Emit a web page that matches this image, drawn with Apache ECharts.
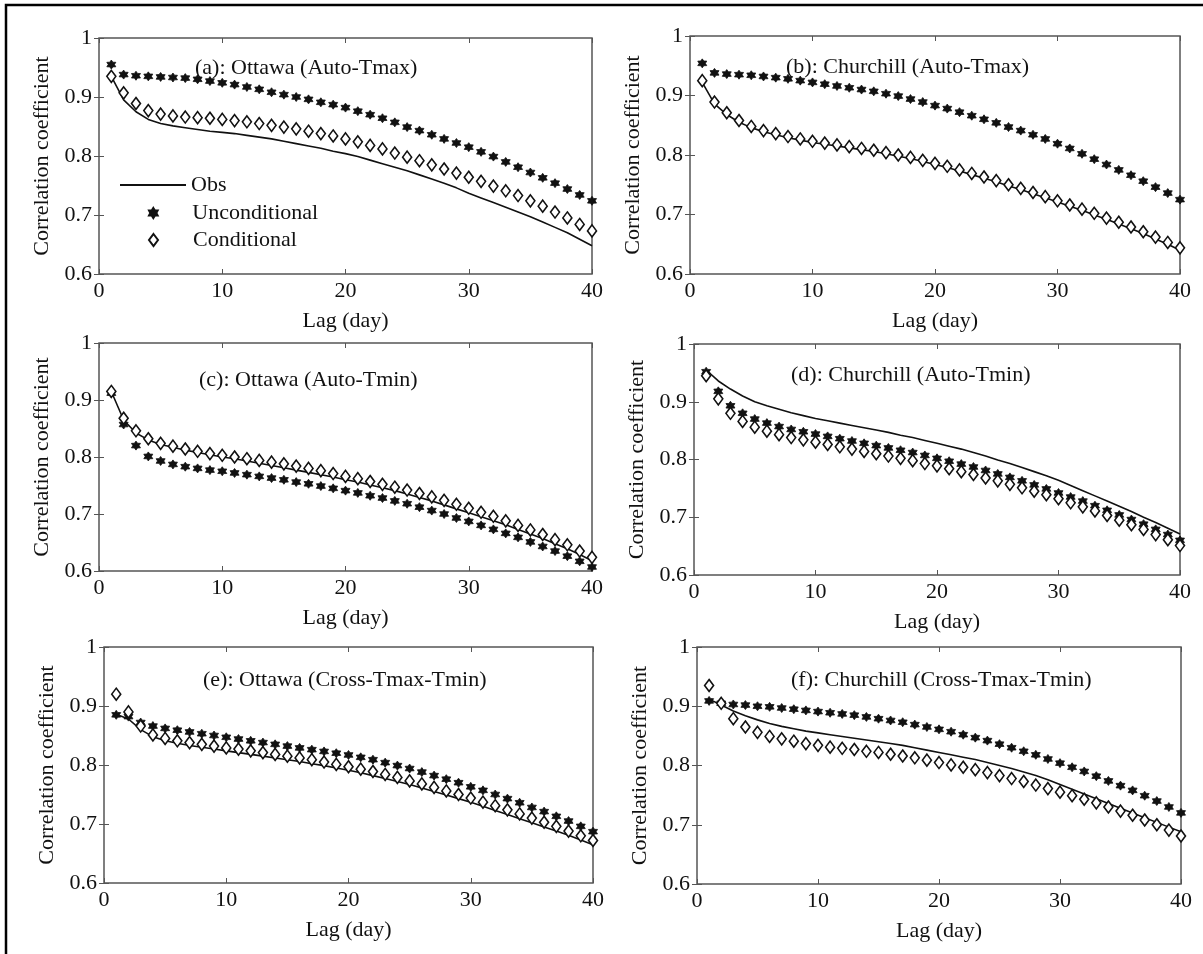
<!DOCTYPE html>
<html>
<head>
<meta charset="utf-8">
<script src="https://cdn.jsdelivr.net/npm/echarts@6/dist/echarts.min.js"></script>
<style>
html,body{margin:0;padding:0;background:#fff;}
#chart{width:1203px;height:954px;}
</style>
</head>
<body>
<div id="chart"></div>
<script>
// ---- Data ----
var lags = [1,2,3,4,5,6,7,8,9,10,11,12,13,14,15,16,17,18,19,20,21,22,23,24,25,26,27,28,29,30,31,32,33,34,35,36,37,38,39,40];
var xTicks = [0,10,20,30,40];
var yTicks = [0.6,0.7,0.8,0.9,1];
var panelTitles = ['(a): Ottawa (Auto-Tmax)','(b): Churchill (Auto-Tmax)','(c): Ottawa (Auto-Tmin)','(d): Churchill (Auto-Tmin)','(e): Ottawa (Cross-Tmax-Tmin)','(f): Churchill (Cross-Tmax-Tmin)'];
var seriesNames = ['Obs','Unconditional','Conditional'];

// (a) Ottawa Auto-Tmax
var obsA = [0.935,0.895,0.875,0.862,0.855,0.851,0.848,0.845,0.842,0.840,0.838,0.835,0.832,0.829,0.825,0.821,0.817,0.813,0.808,0.804,0.799,0.793,0.787,0.781,0.775,0.768,0.761,0.754,0.746,0.737,0.729,0.721,0.713,0.705,0.697,0.688,0.679,0.670,0.659,0.648];
var uncA = [0.955,0.938,0.936,0.935,0.934,0.933,0.932,0.930,0.927,0.924,0.921,0.917,0.913,0.908,0.904,0.900,0.896,0.891,0.887,0.882,0.876,0.870,0.864,0.857,0.849,0.843,0.836,0.829,0.822,0.815,0.807,0.799,0.790,0.781,0.772,0.763,0.754,0.744,0.734,0.724];
var conA = [0.935,0.907,0.889,0.877,0.871,0.868,0.866,0.865,0.864,0.862,0.860,0.858,0.855,0.852,0.849,0.846,0.842,0.838,0.834,0.829,0.824,0.818,0.812,0.805,0.798,0.792,0.785,0.778,0.771,0.764,0.757,0.749,0.741,0.733,0.724,0.715,0.705,0.695,0.684,0.673];
// (b) Churchill Auto-Tmax
var obsB = [0.922,0.886,0.868,0.855,0.846,0.839,0.834,0.829,0.825,0.821,0.818,0.815,0.812,0.809,0.806,0.802,0.798,0.794,0.789,0.784,0.779,0.773,0.767,0.761,0.755,0.748,0.742,0.735,0.728,0.721,0.714,0.707,0.699,0.692,0.684,0.676,0.668,0.659,0.650,0.640];
var uncB = [0.954,0.938,0.936,0.935,0.934,0.932,0.930,0.928,0.925,0.922,0.919,0.916,0.913,0.910,0.907,0.903,0.899,0.894,0.889,0.883,0.878,0.872,0.866,0.860,0.854,0.847,0.841,0.834,0.827,0.819,0.811,0.802,0.793,0.784,0.775,0.766,0.756,0.746,0.736,0.725];
var conB = [0.925,0.889,0.871,0.858,0.848,0.841,0.836,0.831,0.827,0.823,0.820,0.817,0.814,0.811,0.808,0.804,0.800,0.796,0.791,0.786,0.781,0.775,0.769,0.763,0.757,0.750,0.744,0.737,0.730,0.723,0.716,0.709,0.702,0.694,0.687,0.679,0.671,0.662,0.653,0.644];
// (c) Ottawa Auto-Tmin
var obsC = [0.915,0.865,0.842,0.830,0.822,0.817,0.812,0.808,0.804,0.800,0.797,0.793,0.789,0.785,0.781,0.777,0.773,0.769,0.765,0.760,0.756,0.751,0.746,0.741,0.735,0.729,0.723,0.716,0.709,0.702,0.695,0.688,0.681,0.673,0.665,0.657,0.648,0.639,0.629,0.618];
var uncC = [0.912,0.857,0.820,0.801,0.793,0.787,0.783,0.780,0.777,0.775,0.772,0.769,0.766,0.763,0.760,0.756,0.753,0.749,0.745,0.741,0.737,0.732,0.728,0.723,0.718,0.712,0.706,0.700,0.693,0.687,0.680,0.673,0.666,0.659,0.651,0.643,0.635,0.626,0.617,0.607];
var conC = [0.915,0.868,0.846,0.832,0.824,0.819,0.814,0.810,0.806,0.803,0.800,0.797,0.794,0.791,0.788,0.784,0.780,0.776,0.771,0.766,0.762,0.757,0.752,0.747,0.742,0.736,0.730,0.724,0.717,0.710,0.703,0.696,0.688,0.680,0.672,0.664,0.655,0.646,0.635,0.624];
// (d) Churchill Auto-Tmin
var obsD = [0.955,0.936,0.922,0.910,0.900,0.893,0.887,0.881,0.876,0.871,0.867,0.863,0.859,0.855,0.851,0.847,0.842,0.838,0.833,0.828,0.823,0.818,0.812,0.806,0.799,0.793,0.786,0.779,0.772,0.764,0.755,0.746,0.737,0.728,0.719,0.710,0.700,0.691,0.681,0.671];
var uncD = [0.952,0.918,0.893,0.880,0.870,0.863,0.857,0.852,0.848,0.844,0.840,0.836,0.832,0.828,0.824,0.820,0.816,0.812,0.807,0.802,0.797,0.792,0.787,0.781,0.775,0.769,0.763,0.756,0.749,0.742,0.735,0.728,0.720,0.712,0.704,0.696,0.688,0.679,0.670,0.660];
var conD = [0.945,0.905,0.880,0.866,0.856,0.849,0.843,0.838,0.834,0.830,0.826,0.822,0.818,0.814,0.810,0.806,0.802,0.798,0.793,0.789,0.784,0.779,0.774,0.768,0.763,0.757,0.751,0.745,0.739,0.732,0.725,0.718,0.711,0.703,0.695,0.687,0.679,0.670,0.661,0.651];
// (e) Ottawa Cross-Tmax-Tmin
var obsE = [0.886,0.878,0.860,0.848,0.841,0.837,0.833,0.830,0.827,0.824,0.821,0.818,0.815,0.812,0.809,0.806,0.802,0.799,0.795,0.791,0.787,0.782,0.777,0.772,0.767,0.761,0.755,0.749,0.743,0.737,0.730,0.723,0.716,0.709,0.702,0.695,0.688,0.681,0.673,0.665];
var uncE = [0.885,0.882,0.872,0.866,0.862,0.859,0.856,0.853,0.850,0.847,0.844,0.841,0.838,0.835,0.832,0.829,0.826,0.823,0.820,0.817,0.813,0.809,0.804,0.799,0.794,0.788,0.782,0.776,0.770,0.763,0.757,0.750,0.743,0.736,0.728,0.721,0.713,0.705,0.696,0.687];
var conE = [0.920,0.890,0.866,0.851,0.845,0.841,0.838,0.835,0.832,0.829,0.827,0.824,0.821,0.818,0.815,0.812,0.809,0.805,0.801,0.797,0.793,0.789,0.784,0.779,0.773,0.768,0.762,0.756,0.750,0.744,0.737,0.731,0.724,0.717,0.710,0.703,0.696,0.688,0.680,0.672];
// (f) Churchill Cross-Tmax-Tmin
var obsF = [0.912,0.902,0.892,0.884,0.877,0.871,0.866,0.862,0.858,0.855,0.852,0.849,0.846,0.843,0.840,0.837,0.834,0.830,0.826,0.822,0.818,0.814,0.810,0.805,0.800,0.795,0.789,0.783,0.776,0.768,0.760,0.752,0.744,0.736,0.728,0.720,0.712,0.704,0.696,0.688];
var uncF = [0.909,0.905,0.903,0.902,0.900,0.899,0.897,0.895,0.893,0.891,0.889,0.887,0.885,0.882,0.879,0.876,0.873,0.869,0.865,0.861,0.857,0.852,0.847,0.842,0.836,0.830,0.824,0.818,0.811,0.804,0.797,0.790,0.782,0.774,0.766,0.758,0.749,0.740,0.730,0.720];
var conF = [0.935,0.905,0.879,0.865,0.856,0.849,0.845,0.841,0.837,0.834,0.831,0.829,0.827,0.824,0.822,0.819,0.816,0.813,0.809,0.805,0.801,0.797,0.793,0.788,0.783,0.778,0.773,0.767,0.761,0.755,0.749,0.743,0.737,0.730,0.723,0.716,0.708,0.700,0.691,0.681];

var panelData = [[obsA,uncA,conA],[obsB,uncB,conB],[obsC,uncC,conC],[obsD,uncD,conD],[obsE,uncE,conE],[obsF,uncF,conF]];

// ---- Layout (pixels) ----
var grids = [
  {left:99,  top:38,  width:493, height:236},
  {left:690, top:36,  width:490, height:238},
  {left:99,  top:343, width:493, height:228},
  {left:694, top:344, width:486, height:231},
  {left:104, top:647, width:489, height:236},
  {left:697, top:647, width:484, height:237}
];
var titlePos = [[190,52],[781,51],[194,364],[786,359],[198,664],[786,664]];

var FONT = "'Liberation Serif','Times New Roman',serif";
var TXT = '#111';
var FRAME = '#555';
var starPath = 'path://M10 0 L13 4.8 L18.66 5 L16 10 L18.66 15 L13 15.2 L10 20 L7 15.2 L1.34 15 L4 10 L1.34 5 L7 4.8 Z';

function toPairs(arr){ return lags.map(function(l,i){ return [l, arr[i]]; }); }

var option = {
  backgroundColor:'#fff',
  animation:false,
  textStyle:{fontFamily:FONT},
  grid:[], xAxis:[], yAxis:[], series:[], title:[], legend:[],
  graphic:[{
    type:'polyline', silent:true,
    shape:{points:[[6,954],[6,5],[1203,5]]},
    style:{stroke:'#000', lineWidth:2.5, fill:null}
  }]
};

grids.forEach(function(g, p){
  option.grid.push({left:g.left, top:g.top, width:g.width, height:g.height, show:true, borderColor:FRAME, borderWidth:1.5, backgroundColor:'transparent'});
  var xb = {
    type:'value', gridIndex:p, min:xTicks[0], max:xTicks[xTicks.length-1], interval:10,
    name:'Lag (day)', nameLocation:'middle', nameGap:36,
    nameTextStyle:{fontSize:22, color:TXT, fontFamily:FONT},
    axisLine:{show:false},
    axisTick:{show:true, inside:true, length:5, lineStyle:{color:FRAME, width:1}},
    axisLabel:{fontSize:22, color:TXT, margin:6, fontFamily:FONT},
    splitLine:{show:false}
  };
  var xt = {
    type:'value', gridIndex:p, position:'top', min:xTicks[0], max:xTicks[xTicks.length-1], interval:10,
    axisLine:{show:false}, axisLabel:{show:false},
    axisTick:{show:true, inside:true, length:5, lineStyle:{color:FRAME, width:1}},
    splitLine:{show:false}
  };
  var yl = {
    type:'value', gridIndex:p, min:yTicks[0], max:yTicks[yTicks.length-1], interval:0.1,
    name:'Correlation coefficient', nameLocation:'middle', nameGap:46,
    nameTextStyle:{fontSize:22, color:TXT, fontFamily:FONT},
    axisLine:{show:false},
    axisTick:{show:true, inside:true, length:5, lineStyle:{color:FRAME, width:1}},
    axisLabel:{fontSize:22, color:TXT, margin:7, fontFamily:FONT},
    splitLine:{show:false}
  };
  var yr = {
    type:'value', gridIndex:p, position:'right', min:yTicks[0], max:yTicks[yTicks.length-1], interval:0.1,
    axisLine:{show:false}, axisLabel:{show:false},
    axisTick:{show:true, inside:true, length:5, lineStyle:{color:FRAME, width:1}},
    splitLine:{show:false}
  };
  var xi = option.xAxis.length; option.xAxis.push(xb); option.xAxis.push(xt);
  var yi = option.yAxis.length; option.yAxis.push(yl); option.yAxis.push(yr);

  var d = panelData[p];
  option.series.push({
    name:seriesNames[0], type:'line', xAxisIndex:xi, yAxisIndex:yi,
    data:toPairs(d[0]), symbol:'none', showSymbol:false, smooth:false,
    lineStyle:{color:'#111', width:1.6}, itemStyle:{color:'#111'}, z:2
  });
  option.series.push({
    name:seriesNames[1], type:'scatter', xAxisIndex:xi, yAxisIndex:yi,
    data:toPairs(d[1]), symbol:starPath, symbolSize:9,
    itemStyle:{color:'#111', borderColor:'#111', borderWidth:0.8, opacity:1}, z:3
  });
  option.series.push({
    name:seriesNames[2], type:'scatter', xAxisIndex:xi, yAxisIndex:yi,
    data:toPairs(d[2]), symbol:'diamond', symbolSize:[9,12],
    itemStyle:{color:'#fff', borderColor:'#111', borderWidth:1.6, opacity:1}, z:4
  });

  option.title.push({
    text:panelTitles[p], left:titlePos[p][0], top:titlePos[p][1],
    textStyle:{fontSize:22, fontWeight:'normal', color:TXT, fontFamily:FONT}
  });
});

// legend inside panel (a)
var legendText = {fontSize:22, color:TXT, fontFamily:FONT};
option.legend.push({
  data:[{name:seriesNames[0], icon:'path://M0 0 L66 0 L66 2 L0 2 Z', itemStyle:{color:'#111'}}],
  left:120, top:174, orient:'vertical', padding:0,
  itemWidth:66, itemHeight:2, selectedMode:false, textStyle:legendText
});
option.legend.push({
  data:[seriesNames[1]], left:148, top:202, orient:'vertical', padding:0,
  itemWidth:10, itemHeight:10, selectedMode:false,
  textStyle:Object.assign({padding:[0,0,0,29]}, legendText)
});
option.legend.push({
  data:[seriesNames[2]], left:148, top:229, orient:'vertical', padding:0,
  itemWidth:9, itemHeight:12, selectedMode:false,
  textStyle:Object.assign({padding:[0,0,0,30]}, legendText)
});

var chart = echarts.init(document.getElementById('chart'), null, {renderer:'canvas'});
chart.setOption(option);
</script>
</body>
</html>
